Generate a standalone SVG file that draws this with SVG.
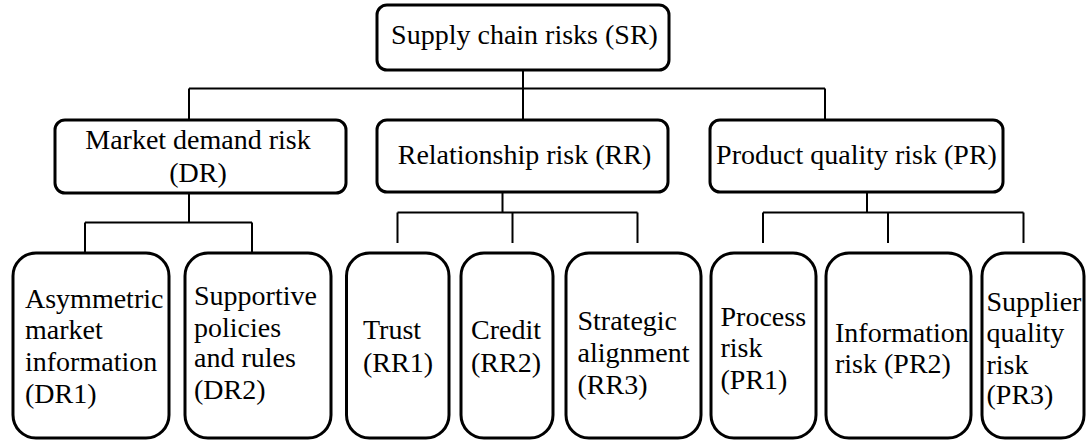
<svg xmlns="http://www.w3.org/2000/svg" width="1086" height="441" viewBox="0 0 1086 441">
<style>
.box{fill:#fff;stroke:#000;stroke-width:3}
.ln{fill:none;stroke:#000;stroke-width:2}
.c{text-anchor:middle}
text{font-family:"Liberation Serif","Times New Roman",serif;font-size:28px;fill:#000}
</style>
<rect width="1086" height="441" fill="#fff"/>
<g id="connectors" class="ln">
<path d="M523,70 V88.5 M189,88.5 H825 M189,88.5 V120 M523,88.5 V120 M825,88.5 V120"/>
<path d="M189,193 V222.5 M85,222.5 H252 M85,222.5 V253 M252,222.5 V253"/>
<path d="M502.5,192 V212.5 M397.5,212.5 H637.5 M397.5,212.5 V243 M512.5,212.5 V243 M637.5,212.5 V243"/>
<path d="M867,192 V212.5 M763,212.5 H1023.5 M763,212.5 V243 M888,212.5 V243 M1023.5,212.5 V243"/>
</g>
<g id="SR"><rect class="box" x="377" y="5" width="292" height="65" rx="10"/><text class="c" x="524.5" y="44">Supply chain risks (SR)</text></g>
<g id="DR"><rect class="box" x="55" y="120" width="291" height="73" rx="10"/><text class="c" x="198" y="148.5">Market demand risk</text><text class="c" x="198" y="182">(DR)</text></g>
<g id="RR"><rect class="box" x="377" y="120" width="291" height="72" rx="10"/><text class="c" x="524.5" y="163.5">Relationship risk (RR)</text></g>
<g id="PR"><rect class="box" x="710" y="120" width="293" height="72" rx="10"/><text class="c" x="856.5" y="163.5">Product quality risk (PR)</text></g>
<g id="DR1"><rect class="box" x="13" y="253" width="156" height="185" rx="23"/><text x="25" y="307.5">Asymmetric</text><text x="25" y="339">market</text><text x="25" y="370.5">information</text><text x="25" y="402.5">(DR1)</text></g>
<g id="DR2"><rect class="box" x="185" y="253" width="146" height="185" rx="23"/><text x="194" y="305">Supportive</text><text x="194" y="336.5">policies</text><text x="194" y="367">and rules</text><text x="194" y="399">(DR2)</text></g>
<g id="RR1"><rect class="box" x="346.5" y="253" width="102.5" height="185" rx="23"/><text x="363" y="339">Trust</text><text x="363" y="371.5">(RR1)</text></g>
<g id="RR2"><rect class="box" x="461" y="253" width="92" height="185" rx="23"/><text x="471" y="339">Credit</text><text x="471" y="371.5">(RR2)</text></g>
<g id="RR3"><rect class="box" x="566" y="253" width="135" height="185" rx="23"/><text x="577.5" y="330">Strategic</text><text x="577.5" y="361.5">alignment</text><text x="577.5" y="393.5">(RR3)</text></g>
<g id="PR1"><rect class="box" x="711" y="253" width="105" height="185" rx="23"/><text x="720.5" y="326">Process</text><text x="720.5" y="357">risk</text><text x="720.5" y="388.5">(PR1)</text></g>
<g id="PR2"><rect class="box" x="826" y="253" width="145" height="185" rx="23"/><text x="835" y="341.5">Information</text><text x="835" y="373">risk (PR2)</text></g>
<g id="PR3"><rect class="box" x="982" y="253" width="102" height="185" rx="23"/><text x="986.5" y="310.5">Supplier</text><text x="986.5" y="342">quality</text><text x="986.5" y="373.5">risk</text><text x="986.5" y="404">(PR3)</text></g>
</svg>
